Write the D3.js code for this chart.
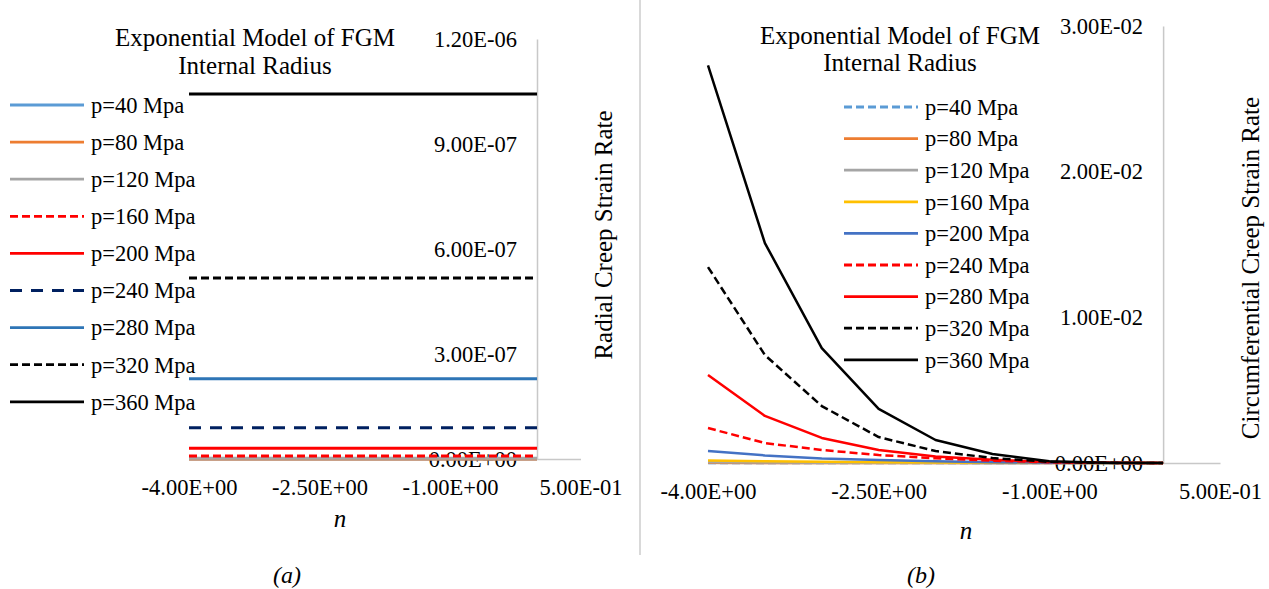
<!DOCTYPE html>
<html>
<head>
<meta charset="utf-8">
<script src="https://cdn.jsdelivr.net/npm/d3@7"></script>
<style>
  body { margin: 0; background: #fff; }
</style>
</head>
<body>
<svg id="chart" width="1269" height="589" font-family="'Liberation Serif', 'Times New Roman', 'DejaVu Serif', serif"></svg>
<script>
// n values (x axis)
const nValues = [-4, -3.5, -3, -2.5, -2, -1.5, -1, -0.5, 0];
const xTicks = [-4, -2.5, -1, 0.5];

// legend labels
const pressureLabels = ["p=40 Mpa", "p=80 Mpa", "p=120 Mpa", "p=160 Mpa", "p=200 Mpa",
                        "p=240 Mpa", "p=280 Mpa", "p=320 Mpa", "p=360 Mpa"];

// (a) radial creep strain rate, one row per pressure
const radialRates = [
  [1.5e-11, 1.5e-11, 1.5e-11, 1.5e-11, 1.5e-11, 1.5e-11, 1.5e-11, 1.5e-11, 1.5e-11],
  [3e-10, 3e-10, 3e-10, 3e-10, 3e-10, 3e-10, 3e-10, 3e-10, 3e-10],
  [1.9e-9, 1.9e-9, 1.9e-9, 1.9e-9, 1.9e-9, 1.9e-9, 1.9e-9, 1.9e-9, 1.9e-9],
  [8.5e-9, 8.5e-9, 8.5e-9, 8.5e-9, 8.5e-9, 8.5e-9, 8.5e-9, 8.5e-9, 8.5e-9],
  [3.1e-8, 3.1e-8, 3.1e-8, 3.1e-8, 3.1e-8, 3.1e-8, 3.1e-8, 3.1e-8, 3.1e-8],
  [8.9e-8, 8.9e-8, 8.9e-8, 8.9e-8, 8.9e-8, 8.9e-8, 8.9e-8, 8.9e-8, 8.9e-8],
  [2.29e-7, 2.29e-7, 2.29e-7, 2.29e-7, 2.29e-7, 2.29e-7, 2.29e-7, 2.29e-7, 2.29e-7],
  [5.17e-7, 5.17e-7, 5.17e-7, 5.17e-7, 5.17e-7, 5.17e-7, 5.17e-7, 5.17e-7, 5.17e-7],
  [1.043e-6, 1.043e-6, 1.043e-6, 1.043e-6, 1.043e-6, 1.043e-6, 1.043e-6, 1.043e-6, 1.043e-6]
];
const radialTicks = [0, 3e-7, 6e-7, 9e-7, 1.2e-6];

// (b) circumferential creep strain rate, one row per pressure
const circRates = [
  [3e-7, 2e-7, 1e-7, 1e-7, 0, 0, 0, 0, 0],
  [1e-5, 7e-6, 4e-6, 3e-6, 2e-6, 1e-6, 0, 0, 0],
  [5e-5, 3e-5, 2e-5, 1.5e-5, 1e-5, 5e-6, 2e-6, 0, 0],
  [0.00018, 0.00012, 0.00008, 0.00005, 0.00003, 0.00002, 0.00001, 0.000002, 0],
  [0.00082, 0.00052, 0.00031, 0.0002, 0.00012, 0.00006, 0.00002, 0.000005, 0],
  [0.0024, 0.00137, 0.00089, 0.00055, 0.00032, 0.00016, 0.00005, 0.00001, 0.000001],
  [0.00604, 0.00323, 0.00172, 0.00089, 0.00045, 0.00022, 0.00007, 0.00001, 0.000001],
  [0.01345, 0.00741, 0.00391, 0.00178, 0.00082, 0.00034, 0.00008, 0.00001, 0.000002],
  [0.0273, 0.0151, 0.00789, 0.00371, 0.00158, 0.00062, 0.00012, 0.00002, 0.000003]
];
const circTicks = [0, 0.01, 0.02, 0.03];

const radialColors = ["#5B9BD5", "#ED7D31", "#A5A5A5", "#FF0000", "#FF0000", "#002060", "#2E75B6", "#000000", "#000000"];
const radialDashes = [null, null, null, "8,4", null, "12,9", null, "8,4", null];
const circColors = ["#5B9BD5", "#ED7D31", "#A5A5A5", "#FFC000", "#4472C4", "#FF0000", "#FF0000", "#000000", "#000000"];
const circDashes = ["8,4", null, null, null, null, "8,4", null, "8,4", null];

const FONT = "'Liberation Serif', 'Times New Roman', 'DejaVu Serif', serif";

// Excel style 0.00E+00
function sci(v) {
  if (v === 0) return "0.00E+00";
  const parts = v.toExponential(2).split("e");
  const e = +parts[1];
  return parts[0] + "E" + (e < 0 ? "-" : "+") + (Math.abs(e) < 10 ? "0" : "") + Math.abs(e);
}

const svg = d3.select("#chart");

// panel separator
svg.append("line")
    .attr("x1", 640).attr("x2", 640).attr("y1", 0).attr("y2", 555)
    .attr("stroke", "#d9d9d9").attr("stroke-width", 2);

function drawPanel(p) {
  const x = d3.scaleLinear().domain([-4, 0.5]).range(p.xRange);
  const y = d3.scaleLinear().domain([0, p.yTicks[p.yTicks.length - 1]]).range(p.yRange);
  const g = svg.append("g");

  // x axis along y=0
  const xAxis = g.append("g")
      .attr("transform", "translate(0," + y(0) + ")")
      .call(d3.axisBottom(x).tickValues(xTicks).tickSize(0).tickSizeOuter(0).tickFormat(sci));
  xAxis.attr("font-family", FONT).attr("font-size", 22.5);
  xAxis.select(".domain").attr("stroke", "#c8c8c8").attr("stroke-width", 1.5);
  xAxis.selectAll("text").attr("y", p.xLabelY - y(0)).attr("dy", "0.35em").attr("fill", "#000");

  // y axis at n=0
  const yAxis = g.append("g")
      .attr("transform", "translate(" + x(0) + ",0)")
      .call(d3.axisLeft(y).tickValues(p.yTicks).tickSize(0).tickSizeOuter(0).tickPadding(20).tickFormat(sci));
  yAxis.attr("font-family", FONT).attr("font-size", 22.5);
  yAxis.select(".domain").attr("stroke", "#c8c8c8").attr("stroke-width", 1.5);
  yAxis.selectAll("text").attr("fill", "#000");

  // series
  const line = d3.line().x((d, i) => x(nValues[i])).y(d => y(d));
  p.data.forEach((s, i) => {
    g.append("path")
        .datum(s)
        .attr("fill", "none")
        .attr("stroke", p.colors[i])
        .attr("stroke-width", p.lineWidth)
        .attr("stroke-dasharray", p.dashes[i])
        .attr("stroke-linejoin", "round")
        .attr("d", line);
  });

  // titles
  p.title.forEach((t, i) => {
    g.append("text").attr("x", p.titleX).attr("y", p.titleY[i]).attr("dy", "0.35em")
        .attr("text-anchor", "middle").attr("font-size", 25).text(t);
  });

  // legend
  pressureLabels.forEach((lab, i) => {
    const ly = p.legendY + i * p.legendStep;
    g.append("line")
        .attr("x1", p.legendX).attr("x2", p.legendX + 74)
        .attr("y1", ly).attr("y2", ly)
        .attr("stroke", p.colors[i]).attr("stroke-width", 2.8)
        .attr("stroke-dasharray", p.dashes[i]);
    g.append("text").attr("x", p.legendX + 81).attr("y", ly).attr("dy", "0.35em")
        .attr("font-size", 22.5).text(lab);
  });

  // axis titles
  g.append("text")
      .attr("transform", "translate(" + p.yTitlePos[0] + "," + p.yTitlePos[1] + ") rotate(-90)")
      .attr("text-anchor", "middle").attr("dy", "0.35em")
      .attr("font-size", 25).text(p.yTitle);
  g.append("text")
      .attr("x", p.nPos[0]).attr("y", p.nPos[1]).attr("dy", "0.35em")
      .attr("text-anchor", "middle").attr("font-size", 25).attr("font-style", "italic").text("n");
  g.append("text")
      .attr("x", p.capPos[0]).attr("y", p.capPos[1]).attr("dy", "0.35em")
      .attr("text-anchor", "middle").attr("font-size", 24).attr("font-style", "italic").text(p.caption);
}

drawPanel({
  xRange: [189, 580.5], yRange: [459, 39], yTicks: radialTicks, xLabelY: 487,
  data: radialRates, colors: radialColors, dashes: radialDashes, lineWidth: 3,
  title: ["Exponential Model of FGM", "Internal Radius"], titleX: 255, titleY: [37, 65],
  legendX: 10, legendY: 105, legendStep: 37.1,
  yTitle: "Radial Creep Strain Rate", yTitlePos: [603, 235],
  nPos: [340, 518], capPos: [287, 575], caption: "(a)"
});

drawPanel({
  xRange: [708, 1220], yRange: [463, 26], yTicks: circTicks, xLabelY: 491,
  data: circRates, colors: circColors, dashes: circDashes, lineWidth: 2.5,
  title: ["Exponential Model of FGM", "Internal Radius"], titleX: 900, titleY: [35, 62],
  legendX: 844, legendY: 107, legendStep: 31.6,
  yTitle: "Circumferential Creep Strain Rate", yTitlePos: [1250, 268],
  nPos: [966, 530], capPos: [921, 575], caption: "(b)"
});
</script>
</body>
</html>
